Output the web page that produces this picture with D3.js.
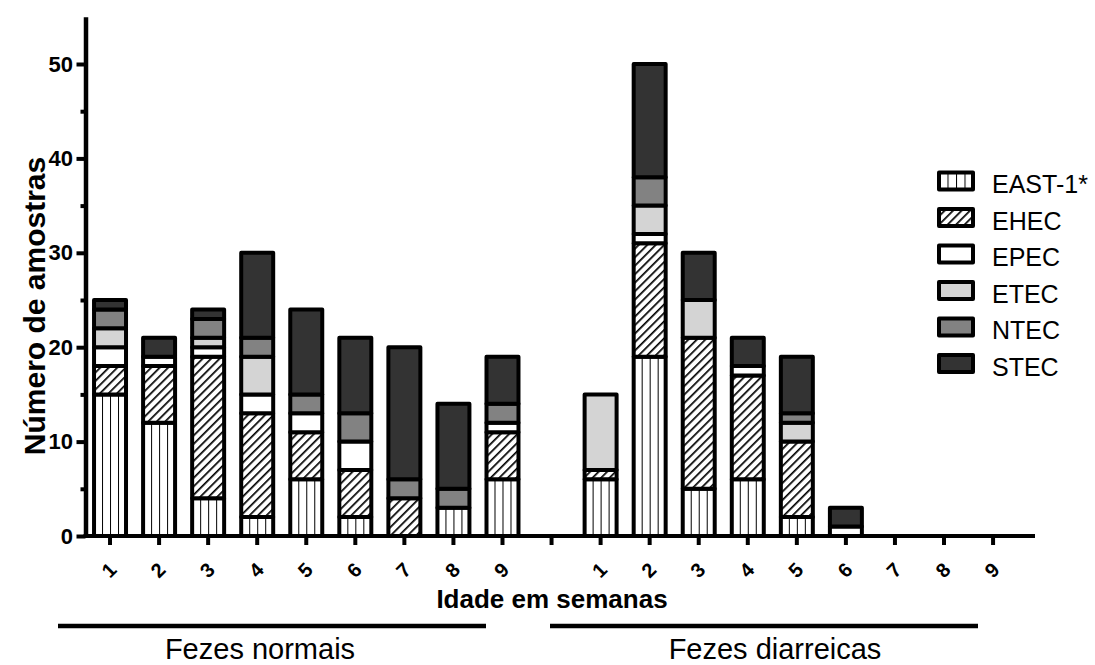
<!DOCTYPE html>
<html>
<head>
<meta charset="utf-8">
<script src="https://cdn.jsdelivr.net/npm/d3@7"></script>
<style>
  html, body { margin: 0; padding: 0; background: #fff; }
  svg { display: block; font-family: Arial, "Liberation Sans", sans-serif; }
</style>
</head>
<body>
<svg id="chart" width="1095" height="665"></svg>
<script>
// Weeks of age for each stool group
const weeks = ["1", "2", "3", "4", "5", "6", "7", "8", "9"];
const pathotypes = ["EAST-1*", "EHEC", "EPEC", "ETEC", "NTEC", "STEC"];

// Fezes normais – samples per pathotype per week
const eastNormal = [15, 12, 4, 2, 6, 2, 0, 3, 6];
const ehecNormal = [3, 6, 15, 11, 5, 5, 4, 0, 5];
const epecNormal = [2, 1, 1, 2, 2, 3, 0, 0, 1];
const etecNormal = [2, 0, 1, 4, 0, 0, 0, 0, 0];
const ntecNormal = [2, 0, 2, 2, 2, 3, 2, 2, 2];
const stecNormal = [1, 2, 1, 9, 9, 8, 14, 9, 5];

// Fezes diarreicas – samples per pathotype per week
const eastDiarr = [6, 19, 5, 6, 2, 0, 0, 0, 0];
const ehecDiarr = [1, 12, 16, 11, 8, 0, 0, 0, 0];
const epecDiarr = [0, 1, 0, 1, 0, 1, 0, 0, 0];
const etecDiarr = [8, 3, 4, 0, 2, 0, 0, 0, 0];
const ntecDiarr = [0, 3, 0, 0, 1, 0, 0, 0, 0];
const stecDiarr = [0, 12, 5, 3, 6, 2, 0, 0, 0];

const yTicks = [0, 10, 20, 30, 40, 50];
const yMinorTicks = [5, 15, 25, 35, 45];
const groupLabels = ["Fezes normais", "Fezes diarreicas"];

// Build rows: one per bar slot, with an empty slot between the two groups
const normalSeries = [eastNormal, ehecNormal, epecNormal, etecNormal, ntecNormal, stecNormal];
const diarrSeries = [eastDiarr, ehecDiarr, epecDiarr, etecDiarr, ntecDiarr, stecDiarr];
const rows = [];
weeks.forEach((w, i) => {
  const r = { key: "N" + w, label: w, group: 0 };
  pathotypes.forEach((p, k) => r[p] = normalSeries[k][i]);
  rows.push(r);
});
rows.push({ key: "gap", label: "", group: -1 });
weeks.forEach((w, i) => {
  const r = { key: "D" + w, label: w, group: 1 };
  pathotypes.forEach((p, k) => r[p] = diarrSeries[k][i]);
  rows.push(r);
});

const svg = d3.select("#chart");
const defs = svg.append("defs");
const fills = {
  "EAST-1*": "url(#vstripe)",
  "EHEC": "url(#hatch)",
  "EPEC": "#ffffff",
  "ETEC": "#d4d4d4",
  "NTEC": "#828282",
  "STEC": "#333333"
};

const x = d3.scaleBand()
  .domain(rows.map(d => d.key))
  .range([85.5, 1017.6])
  .paddingInner(0.348)
  .paddingOuter(0.174);

const y = d3.scaleLinear().domain([0, 55]).range([536, 16.8]);

// Vertical stripes: one pattern per bar so stripes line up with the bar edges
rows.forEach(r => {
  const p = defs.append("pattern")
    .attr("id", "vs-" + r.key)
    .attr("patternUnits", "userSpaceOnUse")
    .attr("x", x(r.key))
    .attr("y", 0)
    .attr("width", x.bandwidth() / 4)
    .attr("height", 10);
  p.append("rect").attr("width", x.bandwidth() / 4).attr("height", 10).attr("fill", "#fff");
  p.append("rect").attr("x", -1).attr("width", 2).attr("height", 10).attr("fill", "#000");
});

const hatch = defs.append("pattern")
  .attr("id", "hatch")
  .attr("patternUnits", "userSpaceOnUse")
  .attr("width", 6)
  .attr("height", 6)
  .attr("patternTransform", "rotate(45)");
hatch.append("rect").attr("width", 6).attr("height", 6).attr("fill", "#fff");
hatch.append("rect").attr("x", 0).attr("width", 1.7).attr("height", 6).attr("fill", "#000");

const legendStripe = defs.append("pattern")
  .attr("id", "vstripe")
  .attr("patternUnits", "userSpaceOnUse")
  .attr("x", 939)
  .attr("y", 0)
  .attr("width", 8.5)
  .attr("height", 10);
legendStripe.append("rect").attr("width", 8.5).attr("height", 10).attr("fill", "#fff");
legendStripe.append("rect").attr("x", -1).attr("width", 2).attr("height", 10).attr("fill", "#000");

// Stacked bars
const stack = d3.stack().keys(pathotypes);
const layers = stack(rows.filter(r => r.group >= 0));

const barG = svg.append("g");
layers.forEach(layer => {
  barG.selectAll(null)
    .data(layer.filter(d => d[1] - d[0] > 0))
    .join("rect")
    .attr("x", d => x(d.data.key))
    .attr("width", x.bandwidth())
    .attr("y", d => y(d[1]))
    .attr("height", d => y(d[0]) - y(d[1]))
    .attr("fill", d => layer.key === "EAST-1*" ? "url(#vs-" + d.data.key + ")" : fills[layer.key])
    .attr("stroke", "#000")
    .attr("stroke-width", 4)
    .attr("stroke-linejoin", "round");
});

// Y axis
const axisX = 85.5;
const yAxis = svg.append("g")
  .attr("transform", `translate(${axisX},0)`)
  .call(d3.axisLeft(y).tickValues(yTicks).tickSize(9).tickPadding(3.5).tickSizeOuter(0));
yAxis.select(".domain").attr("stroke-width", 4.5);
yAxis.selectAll(".tick line").attr("stroke-width", 4);
yAxis.selectAll(".tick text")
  .attr("font-size", 22).attr("font-weight", "bold").attr("fill", "#000")
  .attr("font-family", "Arial, 'Liberation Sans', sans-serif");

const yMinor = svg.append("g")
  .attr("transform", `translate(${axisX},0)`)
  .call(d3.axisLeft(y).tickValues(yMinorTicks).tickSize(5).tickFormat(""));
yMinor.select(".domain").remove();
yMinor.selectAll(".tick line").attr("stroke-width", 4);

// X axis
const xAxis = svg.append("g")
  .attr("transform", "translate(0,536)")
  .call(d3.axisBottom(x).tickSize(9).tickFormat("").tickSizeOuter(0));
xAxis.select(".domain").attr("stroke-width", 4).attr("d", `M${axisX - 2},0H1035`);
xAxis.selectAll(".tick line").attr("stroke-width", 4);

// Rotated week labels
svg.append("g")
  .selectAll("text")
  .data(rows.filter(r => r.group >= 0))
  .join("text")
  .attr("transform", d => `translate(${x(d.key) + x.bandwidth() / 2 - 1},570) rotate(-45)`)
  .attr("text-anchor", "middle")
  .attr("dominant-baseline", "central")
  .attr("font-size", 20)
  .attr("font-weight", "bold")
  .text(d => d.label);

// Axis titles
svg.append("text")
  .attr("transform", "translate(45,306) rotate(-90)")
  .attr("text-anchor", "middle")
  .attr("font-size", 30)
  .attr("font-weight", "bold")
  .text("Número de amostras");

svg.append("text")
  .attr("x", 552)
  .attr("y", 608)
  .attr("text-anchor", "middle")
  .attr("font-size", 26)
  .attr("font-weight", "bold")
  .text("Idade em semanas");

// Group brackets
const groupSpans = [[58, 486], [550, 978]];
const groupTextX = [260, 775];
groupSpans.forEach((s, i) => {
  svg.append("line")
    .attr("x1", s[0]).attr("x2", s[1])
    .attr("y1", 626).attr("y2", 626)
    .attr("stroke", "#000").attr("stroke-width", 4.5);
  svg.append("text")
    .attr("x", groupTextX[i])
    .attr("y", 658.5)
    .attr("text-anchor", "middle")
    .attr("font-size", 29)
    .text(groupLabels[i]);
});

// Legend
const legend = svg.append("g");
pathotypes.forEach((p, i) => {
  const cy = 181 + i * 36.5;
  legend.append("rect")
    .attr("x", 939).attr("y", cy - 8.5)
    .attr("width", 34).attr("height", 17)
    .attr("fill", p === "EAST-1*" ? "url(#vstripe)" : fills[p])
    .attr("stroke", "#000").attr("stroke-width", 4)
    .attr("stroke-linejoin", "round");
  legend.append("text")
    .attr("x", 992).attr("y", cy + 3)
    .attr("dominant-baseline", "central")
    .attr("font-size", 25)
    .text(p);
});
</script>
</body>
</html>
